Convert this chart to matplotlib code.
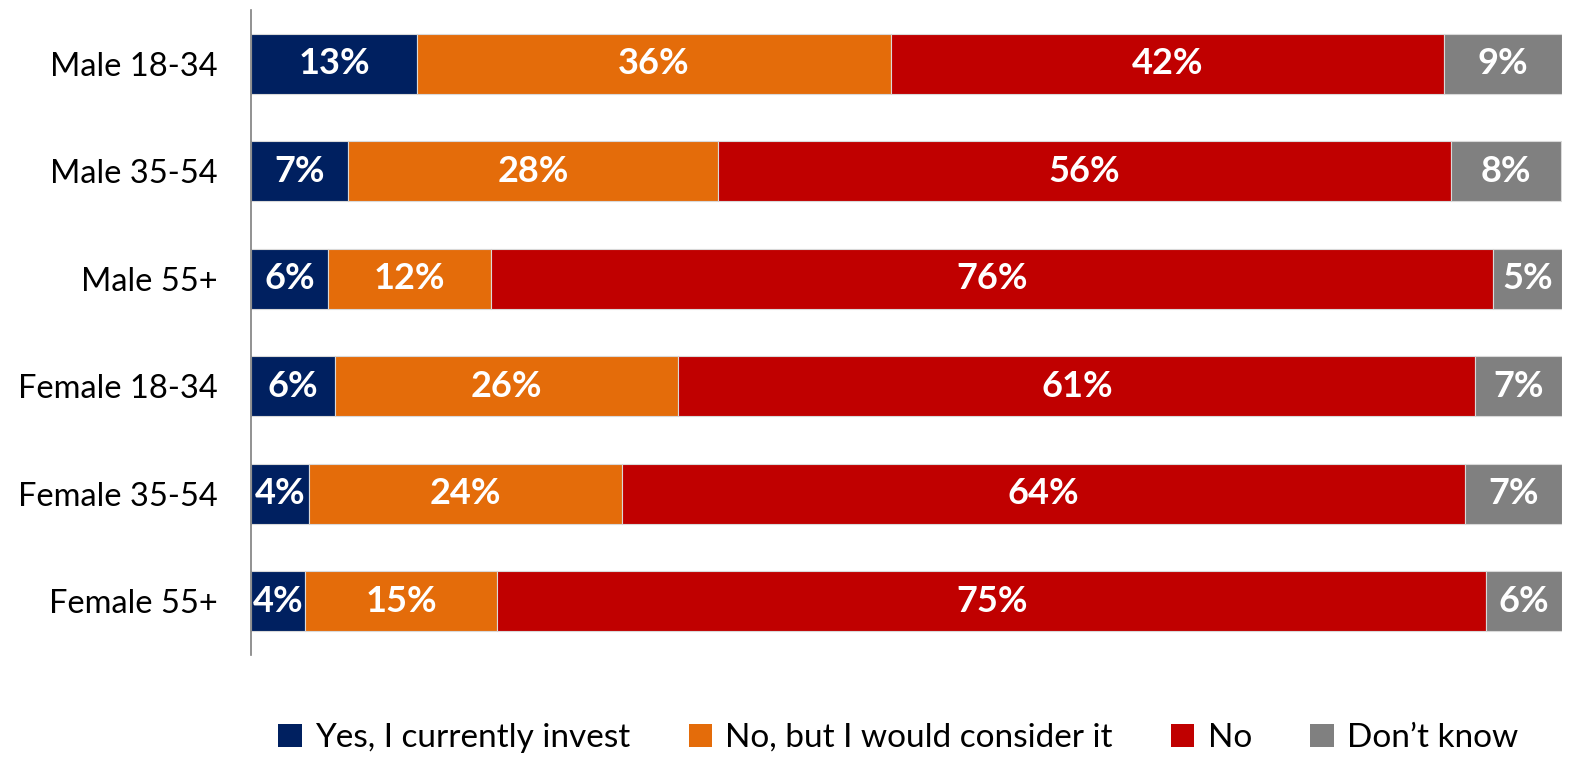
import matplotlib
matplotlib.use("Agg")
import matplotlib.pyplot as plt
import numpy as np

categories = ["Male 18-34", "Male 35-54", "Male 55+", "Female 18-34", "Female 35-54", "Female 55+"]
series_names = ["Yes, I currently invest", "No, but I would consider it", "No", "Don\u2019t know"]
yes_invest = [12.7, 7.4, 5.9, 6.4, 4.4, 4.1]
would_consider = [36.1, 28.2, 12.4, 26.2, 23.9, 14.7]
no = [42.2, 55.9, 76.4, 60.8, 64.3, 75.4]
dont_know = [9.0, 8.4, 5.3, 6.6, 7.4, 5.8]
colors = ["#002060", "#E46C0A", "#C00000", "#808080"]

plt.rcParams['font.family'] = ['Lato', 'DejaVu Sans']

fig = plt.figure(figsize=(15.76, 7.63), dpi=100)
ax = fig.add_axes([251/1576, 1-655/763, (1562-251)/1576, (655-10)/763])

y = np.arange(len(categories))
left = np.zeros(len(categories))
for name, vals, c in zip(series_names, [yes_invest, would_consider, no, dont_know], colors):
    vals = np.array(vals)
    ax.barh(y, vals, left=left, height=0.557, color=c, label=name,
            edgecolor="#d9d9d9", linewidth=0.8)
    for yi, l, v in zip(y, left, vals):
        ax.text(l + v/2, yi, f"{v:.0f}%", ha="center", va="center",
                color="white", fontsize=26, fontweight="bold")
    left += vals

ax.set_xlim(0, 100)
ax.set_ylim(5.5, -0.5)
ax.set_yticks(y)
ax.set_yticklabels(categories, fontsize=23.5)
ax.set_xticks([])
ax.tick_params(axis="y", length=0, pad=24)
for s in ["top", "right", "bottom"]:
    ax.spines[s].set_visible(False)
ax.spines["left"].set_color("#7f7f7f")
ax.spines["left"].set_linewidth(1.2)

leg = fig.legend(loc="center", bbox_to_anchor=(0.57, 1-738/763), ncol=4, frameon=False,
                 fontsize=24, handlelength=0.7, handleheight=0.7, handletextpad=0.4,
                 columnspacing=1.75)
for h in leg.legend_handles:
    h.set_edgecolor("none")

fig.savefig("out.png", dpi=100)
